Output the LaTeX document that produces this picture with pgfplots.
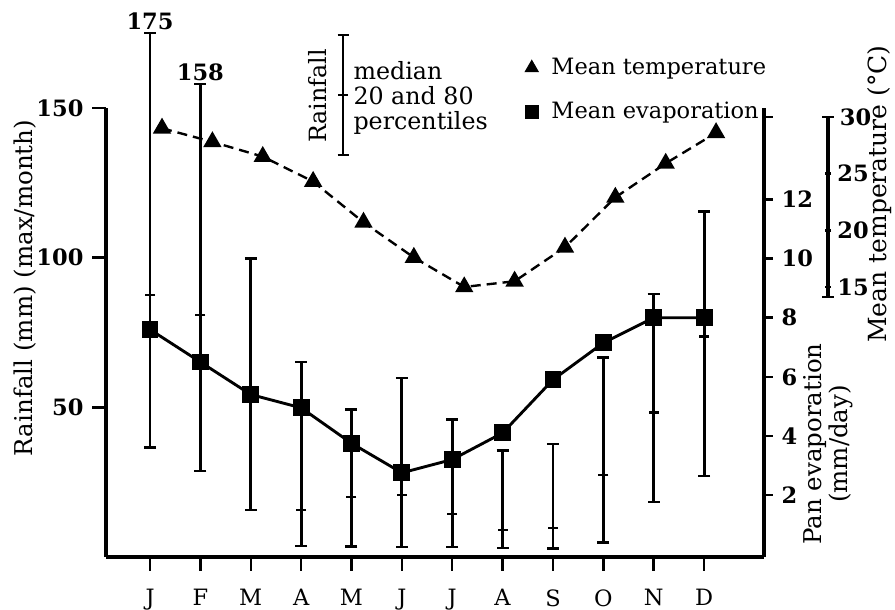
\documentclass[border=0pt]{standalone}
\usepackage{pgfplots}
\pgfplotsset{compat=1.18}
\usepackage{pgfplotstable}
\usepackage{fontspec}
\setmainfont{DejaVu Serif}

% rainfall (mm): 20th percentile, median, 80th percentile
\pgfplotstableread{
m lo med hi
1 36.5 87.6 175
2 28.8 80.9 158
3 15.7 54.0 99.7
4 3.7 15.7 65.2
5 3.5 20.0 49.3
6 3.3 20.7 59.8
7 3.3 14.4 46.0
8 3.0 9.0 35.5
9 2.8 9.7 37.7
10 4.8 27.4 66.7
11 18.4 48.2 87.8
12 27.0 73.6 115.4
}\rain

% pan evaporation (mm/day)
\pgfplotstableread{
m evap
1 7.6
2 6.5
3 5.4
4 4.95
5 3.75
6 2.75
7 3.2
8 4.1
9 5.9
10 7.15
11 8.0
12 8.0
}\evap

% mean temperature (deg C)
\pgfplotstableread{
m temp
1 29.0
2 27.8
3 26.5
4 24.3
5 20.7
6 17.6
7 15.0
8 15.5
9 18.5
10 22.9
11 25.9
12 28.6
}\temp

\pgfplotsset{
  base/.style={scale only axis, width=263.2pt, height=179.6pt,
    at={(42.4pt,20.8pt)}, anchor=south west,
    xmin=0.126, xmax=13.19, clip=false,
    /pgf/number format/assume math mode=true,
    yticklabel style={font=\fontsize{9}{10}\selectfont\bfseries},
    axis line style={line width=1.5pt, -},
    tick style={line width=1pt, black},
    tick align=outside},
}

\begin{document}
\begin{tikzpicture}
\useasboundingbox (0,0) rectangle (358pt,243.6pt);

% rainfall axis
\begin{axis}[base,
  ymin=0, ymax=150,
  axis x line*=bottom, axis y line*=left,
  xtick={1,...,12}, xticklabels={J,F,M,A,M,J,J,A,S,O,N,D},
  ytick={50,100,150},
  major tick length=5.5pt,
  xticklabel style={font=\fontsize{9}{10}\selectfont, yshift=-4pt},
]
\addplot[only marks, mark=-, mark size=2pt, mark options={line width=1pt},
  error bars/.cd, y dir=both, y explicit,
  error mark options={rotate=90, mark size=2.4pt, line width=1pt},
  error bar style={line width=1.15pt}]
  table[x=m, y=med, y error plus expr=\thisrow{hi}-\thisrow{med},
        y error minus expr=\thisrow{med}-\thisrow{lo}] {\rain};
\node[anchor=south, font=\fontsize{9}{10}\selectfont\bfseries, inner sep=1pt] at (axis cs:1,175) {175};
\node[anchor=south, font=\fontsize{9}{10}\selectfont\bfseries, inner sep=1pt] at (axis cs:2,158) {158};
\end{axis}

% evaporation axis (right)
\begin{axis}[base,
  ymin=-0.1, ymax=15.1,
  axis x line=none, axis y line*=right,
  ytick={2,4,...,12},
  extra y ticks={14.8}, extra y tick labels={},
  major tick length=3.5pt,
]
\addplot[line width=1.15pt, mark=square*, mark size=2.8pt] table[x=m, y=evap] {\evap};
\end{axis}

% temperature data
\begin{axis}[base,
  ymin=-8.83, ymax=30.79, hide axis,
  legend style={at={(0.625,1.135)}, anchor=north west, draw=none, fill=none,
    font=\fontsize{9}{11}\selectfont, row sep=5.5pt},
  legend cell align=left,
  legend image code/.code={\draw[#1] plot coordinates {(0.1cm,0cm)}; \path (0.3cm,0cm);},
]
\addlegendimage{only marks, mark=triangle*, mark size=3pt}
\addlegendimage{only marks, mark=square*, mark size=2.6pt}
\addplot[line width=0.95pt, dash pattern=on 4pt off 2.4pt, xshift=4.8pt,
  mark=triangle*, mark size=3.3pt, mark options={solid}] table[x=m, y=temp] {\temp};
\legend{Mean temperature, Mean evaporation}
\end{axis}

% temperature scale
\begin{axis}[scale only axis, at={(330.2pt,124.8pt)}, anchor=south west,
  width=1pt, height=72pt, xmin=0, xmax=1, ymin=14.12, ymax=30,
  axis x line=none, axis y line*=right,
  axis line style={line width=1.5pt, -},
  /pgf/number format/assume math mode=true,
  tick label style={font=\fontsize{9}{10}\selectfont\bfseries},
  tick style={line width=1pt, black}, tick align=center,
  major tick length=2.5pt,
  ytick={15,20,25},
  extra y ticks={14.12,30}, extra y tick labels={,30},
  extra y tick style={major tick length=4.5pt},
  yticklabel style={xshift=-1pt},
]
\end{axis}

% axis titles
\node[rotate=90, font=\fontsize{9.8}{12}\selectfont] at (10pt,128.4pt) {Rainfall (mm) (max/month)};
\node[rotate=90, font=\fontsize{10}{12}\selectfont] at (352pt,166pt) {Mean temperature (°C)};
\node[rotate=90, align=center, font=\fontsize{9.8}{10.5}\selectfont] at (331.2pt,66pt) {Pan evaporation\\(mm/day)};

% rainfall key
\draw[line width=1.15pt] (137.2pt,181.6pt) -- (137.2pt,229.6pt);
\draw[line width=1pt] (135pt,181.6pt) -- (139.4pt,181.6pt)
  (135pt,229.6pt) -- (139.4pt,229.6pt) (135.2pt,205.6pt) -- (139.2pt,205.6pt);
\node[rotate=90, font=\fontsize{9.5}{11}\selectfont] at (127.2pt,205.2pt) {Rainfall};
\node[anchor=west, align=left, inner sep=0pt, font=\fontsize{9.5}{10}\selectfont] at (141.2pt,204.4pt) {median\\20 and 80\\percentiles};
\end{tikzpicture}
\end{document}
